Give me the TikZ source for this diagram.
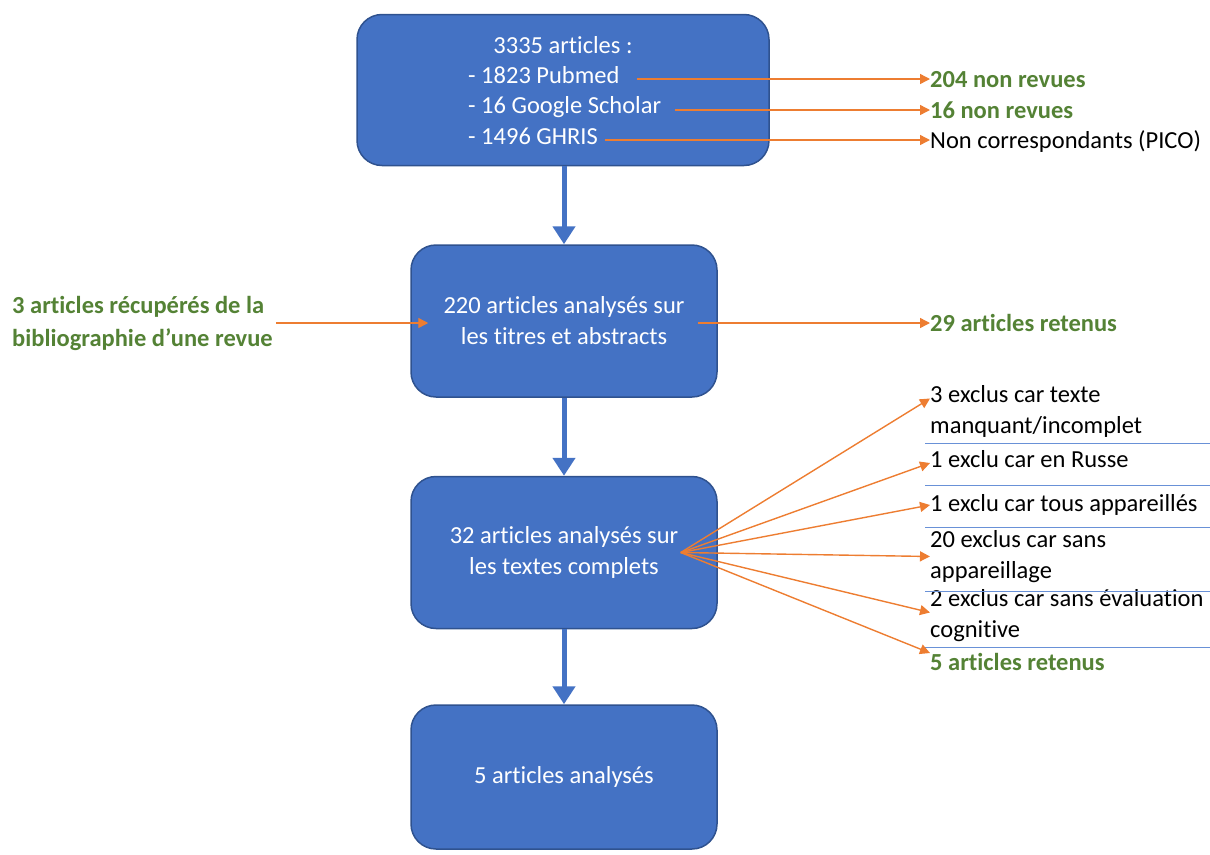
\documentclass[tikz,border=0pt]{standalone}
\usepackage{fontspec}
\setmainfont{Carlito}[RawFeature={-liga;-clig;-calt;-dlig}]
\usetikzlibrary{calc}
\usetikzlibrary{arrows.meta}
\usetikzlibrary{positioning}
\definecolor{custom-blue}{RGB}{68, 114, 196}
\definecolor{custom-darkblue}{RGB}{47, 82, 143}
\definecolor{custom-orange}{RGB}{237, 125, 49}
\definecolor{custom-green}{RGB}{84, 130, 53}
\definecolor{custom-rule}{RGB}{105, 145, 215}

\tikzset{
  box/.style={draw=custom-darkblue, line width=1.5pt, fill=custom-blue, rounded corners=25pt,
    minimum width=306pt, minimum height=152pt, text=white, align=center,
    font=\fontsize{24.5}{31}\selectfont},
  boxline/.style={text=white, inner sep=0pt, text height=16pt, text depth=0pt,
    font=\fontsize{24.5}{30}\selectfont},
  label/.style={anchor=west, inner sep=0pt, align=left, font=\fontsize{24.5}{31}\selectfont},
  single/.style={label, text height=16pt, text depth=0pt},
  kept/.style={text=custom-green, font=\fontsize{24.5}{31}\selectfont\bfseries},
  bigarrow/.style={custom-blue, line width=5pt, -{Triangle[length=18pt,width=22pt]}},
  thin/.style={custom-orange, line width=1.4pt, -{Triangle[length=10pt,width=10pt]}},
  sepline/.style={custom-rule, line width=1pt}
}

\begin{document}
\begin{tikzpicture}[x=1pt, y=-1pt]
\useasboundingbox (0,0) rectangle (1210,854);

\node[box, minimum width=412pt, minimum height=151pt] (b1) at (563,90) {};
\node[boxline] (t1) at (563,45) {3335 articles :};
\node[boxline, anchor=west] (l1) at (468,75) {- 1823 Pubmed};
\node[boxline, anchor=west] (l2) at (468,105) {- 16 Google Scholar};
\node[boxline, anchor=west] (l3) at (468,136) {- 1496 GHRIS};

\node[box] (b2) at (564,321) {220 articles analysés sur\\les titres et abstracts};
\node[box] (b3) at (564,552.5) {32 articles analysés sur\\les textes complets};
\node[box, minimum height=144pt] (b4) at (564,777) {5 articles analysés};

\draw[bigarrow] (b1.south -| b2.north) -- (b2.north);
\draw[bigarrow] (b2.south) -- (b3.north);
\draw[bigarrow] (b3.south) -- (b4.north);

\node[single, kept] (r1) at (930,79) {204 non revues};
\node[single, kept] (r2) at (930,110) {16 non revues};
\node[single] (r3) at (930,140) {Non correspondants (PICO)};
\draw[thin] ($(r1.west -| l1.east)+(17,0)$) -- (r1.west);
\draw[thin] ($(r2.west -| l2.east)+(14,0)$) -- (r2.west);
\draw[thin] ($(r3.west -| l3.east)+(7,0)$) -- (r3.west);

\node[label, kept, font=\fontsize{24.5}{33}\selectfont\bfseries] (lft) at (12,323)
  {3 articles récupérés de la\\bibliographie d’une revue};
\node[single, kept] (k1) at (930,323) {29 articles retenus};
\draw[thin] ([xshift=3pt]lft.east) -- ($(lft.east -| b2.west)+(18,0)$);
\draw[thin] ($(k1.west -| b2.east)+(-20,0)$) -- (k1.west);

\node[label] (e1) at (930,411.5) {3 exclus car texte\\manquant/incomplet};
\node[single] (e2) at (930,459) {1 exclu car en Russe};
\node[single] (e3) at (930,503) {1 exclu car tous appareillés};
\node[label] (e4) at (930,556.5) {20 exclus car sans\\appareillage};
\node[label] (e5) at (930,615.5) {2 exclus car sans évaluation\\cognitive};
\node[single, kept] (e6) at (930,662) {5 articles retenus};

\foreach \y in {443.5,485.5,527.5,591.5,647.5}
  \draw[sepline] (925,\y) -- (1210,\y);

\coordinate (fan) at ([xshift=-37pt]b3.east);
\draw[thin] (fan) -- ([yshift=13pt]e1.west);
\draw[thin] (fan) -- ([yshift=-4pt]e2.west);
\draw[thin] (fan) -- ([yshift=-2pt]e3.west);
\draw[thin] (fan) -- (e4.west);
\draw[thin] (fan) -- ([yshift=3pt]e5.west);
\draw[thin] (fan) -- ([yshift=9pt]e6.west);
\end{tikzpicture}
\end{document}
